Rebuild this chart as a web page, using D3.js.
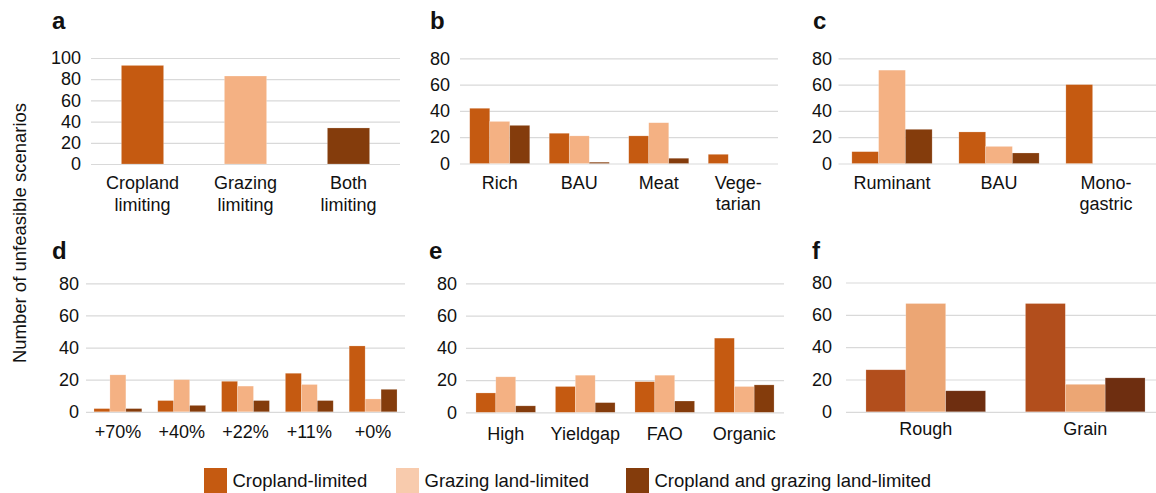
<!DOCTYPE html>
<html>
<head>
<meta charset="utf-8">
<script src="https://cdn.jsdelivr.net/npm/d3@7"></script>
<style>
  body { margin: 0; background: #fff; }
  text { font-family: "Liberation Sans", Arial, Helvetica, sans-serif; fill: #111; }
</style>
</head>
<body>
<div id="chart"></div>
<script>
// series
var seriesNames = ["Cropland-limited", "Grazing land-limited", "Cropland and grazing land-limited"];

// panel a
var aCategories = ["Cropland\nlimiting", "Grazing\nlimiting", "Both\nlimiting"];
var aValues = [93, 83, 34];
var aTicks = [0, 20, 40, 60, 80, 100];

// panel b (diet)
var bCategories = ["Rich", "BAU", "Meat", "Vege-\ntarian"];
var bCropland = [42, 23, 21, 7];
var bGrazing = [32, 21, 31, 0];
var bBoth = [29, 1, 4, 0];

// panel c (livestock)
var cCategories = ["Ruminant", "BAU", "Mono-\ngastric"];
var cCropland = [9, 24, 60];
var cGrazing = [71, 13, 0];
var cBoth = [26, 8, 0];

// panel d (waste)
var dCategories = ["+70%", "+40%", "+22%", "+11%", "+0%"];
var dCropland = [2, 7, 19, 24, 41];
var dGrazing = [23, 20, 16, 17, 8];
var dBoth = [2, 4, 7, 7, 14];

// panel e (yields)
var eCategories = ["High", "Yieldgap", "FAO", "Organic"];
var eCropland = [12, 16, 19, 46];
var eGrazing = [22, 23, 23, 16];
var eBoth = [4, 6, 7, 17];

// panel f (feed)
var fCategories = ["Rough", "Grain"];
var fCropland = [26, 67];
var fGrazing = [67, 17];
var fBoth = [13, 21];

var otherTicks = [0, 20, 40, 60, 80];

var colors = ["#C55A11", "#F4B183", "#843C0C"];
var fColors = ["#B24E1C", "#ECA674", "#6E2E10"];
var legendColors = ["#C55A11", "#F8CBAD", "#843C0C"];

var W = 1156, H = 493;
var svg = d3.select("#chart").append("svg")
    .attr("width", W)
    .attr("height", H);

function drawPanel(p) {
    var g = svg.append("g");

    var x = d3.scaleBand()
        .domain(d3.range(p.categories.length))
        .range([p.x0, p.x1])
        .paddingInner(p.pad)
        .paddingOuter(p.pad / 2);

    var y = d3.scaleLinear()
        .domain([0, d3.max(p.ticks)])
        .range([p.y0, p.yTop]);

    // gridlines + tick labels
    var axis = g.append("g")
        .attr("transform", `translate(${p.x0},0)`)
        .call(d3.axisLeft(y)
            .tickValues(p.ticks)
            .tickSize(-(p.x1 - p.x0))
            .tickPadding(p.x0 - p.labelRight));
    axis.select(".domain").remove();
    axis.selectAll("line").attr("stroke", "#d9d9d9").attr("stroke-width", 1.2);
    axis.selectAll("text")
        .style("font-size", "18px")
        .attr("fill", "#111")
        .style("font-family", "'Liberation Sans', Arial, sans-serif");

    // bars
    var nSeries = p.series.length;
    var xs = d3.scaleBand()
        .domain(d3.range(nSeries))
        .range([0, x.bandwidth()]);

    p.series.forEach(function(vals, si) {
        g.selectAll(null)
            .data(vals)
            .enter()
            .append("rect")
            .attr("x", (d, i) => x(i) + xs(si))
            .attr("y", d => y(d))
            .attr("width", xs.bandwidth())
            .attr("height", d => y(0) - y(d))
            .attr("fill", (d, i) => p.barColors ? p.barColors[i] : p.colors[si])
            .attr("stroke", "rgba(255,255,255,0.35)")
            .attr("stroke-width", 0.6);
    });

    // category labels
    p.categories.forEach(function(c, i) {
        var lines = c.split("\n");
        var t = g.append("text")
            .attr("text-anchor", "middle")
            .style("font-size", "18px");
        lines.forEach(function(l, li) {
            t.append("tspan")
                .attr("x", x(i) + x.bandwidth() / 2)
                .attr("y", p.y0 + p.labelOffset + li * 21.5)
                .text(l);
        });
    });

    // panel letter
    g.append("text")
        .attr("x", p.letterX)
        .attr("y", p.letterY)
        .style("font-size", "24px")
        .style("font-weight", "bold")
        .text(p.letter);
}

drawPanel({letter: "a", letterX: 52, letterY: 29, categories: aCategories,
    series: [aValues], barColors: colors, colors: colors, ticks: aTicks,
    x0: 91, x1: 400, y0: 164, yTop: 58, labelRight: 81, pad: 0.59, labelOffset: 25});

drawPanel({letter: "b", letterX: 430, letterY: 29, categories: bCategories,
    series: [bCropland, bGrazing, bBoth], colors: colors, ticks: otherTicks,
    x0: 460, x1: 778, y0: 163.5, yTop: 58.3, labelRight: 450, pad: 0.245, labelOffset: 25});

drawPanel({letter: "c", letterX: 813, letterY: 29, categories: cCategories,
    series: [cCropland, cGrazing, cBoth], colors: colors, ticks: otherTicks,
    x0: 838.5, x1: 1159.5, y0: 163.5, yTop: 58.3, labelRight: 832, pad: 0.25, labelOffset: 25});

drawPanel({letter: "d", letterX: 52, letterY: 259, categories: dCategories,
    series: [dCropland, dGrazing, dBoth], colors: colors, ticks: otherTicks,
    x0: 86, x1: 405, y0: 411.8, yTop: 283.3, labelRight: 79, pad: 0.25, labelOffset: 26.5});

drawPanel({letter: "e", letterX: 429, letterY: 259, categories: eCategories,
    series: [eCropland, eGrazing, eBoth], colors: colors, ticks: otherTicks,
    x0: 466, x1: 784, y0: 412.3, yTop: 283.3, labelRight: 457, pad: 0.25, labelOffset: 28});

drawPanel({letter: "f", letterX: 812, letterY: 259, categories: fCategories,
    series: [fCropland, fGrazing, fBoth], colors: fColors, ticks: otherTicks,
    x0: 846, x1: 1165, y0: 411.8, yTop: 282.5, labelRight: 832, pad: 0.25, labelOffset: 23.5});

// shared y-axis title
svg.append("text")
    .attr("transform", "translate(26,233) rotate(-90)")
    .attr("text-anchor", "middle")
    .style("font-size", "18.5px")
    .text("Number of unfeasible scenarios");

// legend
var legendX = [204, 396, 626];
var legend = svg.append("g");
seriesNames.forEach(function(name, i) {
    legend.append("rect")
        .attr("x", legendX[i])
        .attr("y", 468)
        .attr("width", 23)
        .attr("height", 25)
        .attr("fill", legendColors[i]);
    legend.append("text")
        .attr("x", legendX[i] + 28.5)
        .attr("y", 487)
        .style("font-size", "18.5px")
        .text(name);
});
</script>
</body>
</html>
